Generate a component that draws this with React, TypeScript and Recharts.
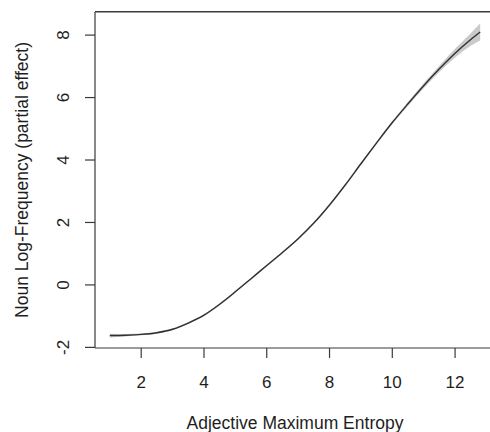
import React from "react";
import { ComposedChart, Line, Area, XAxis, YAxis, Label, CartesianGrid } from "recharts";

const entropy = [1.0, 1.5, 2.0, 2.5, 3.0, 3.5, 4.0, 4.5, 5.0, 5.5, 6.0, 6.5, 7.0, 7.5, 8.0, 8.5, 9.0, 9.5, 10.0, 10.5, 11.0, 11.5, 12.0, 12.5, 12.8];
const partialEffect = [-1.62, -1.61, -1.585, -1.53, -1.42, -1.22, -0.97, -0.62, -0.22, 0.2, 0.62, 1.04, 1.48, 1.98, 2.56, 3.2, 3.88, 4.55, 5.2, 5.8, 6.38, 6.92, 7.42, 7.86, 8.1];
const bandHalfWidth = [0.06, 0.04, 0.03, 0.03, 0.03, 0.03, 0.03, 0.03, 0.03, 0.03, 0.03, 0.03, 0.03, 0.03, 0.03, 0.03, 0.04, 0.04, 0.05, 0.06, 0.08, 0.1, 0.14, 0.2, 0.27];

const xTicks = [2, 4, 6, 8, 10, 12];
const yTicks = [-2, 0, 2, 4, 6, 8];
const xDomain: [number, number] = [0.528, 13.272];
const yDomain: [number, number] = [-2.02, 8.74];

const xTitle = "Adjective Maximum Entropy";
const yTitle = "Noun Log-Frequency (partial effect)";

const data = entropy.map((x, i) => ({
  x,
  fit: partialEffect[i],
  band: [partialEffect[i] - bandHalfWidth[i], partialEffect[i] + bandHalfWidth[i]],
}));

const FONT = '"Liberation Sans", Arial, Helvetica, sans-serif';
const AXIS = "#3a3a3a";
const TEXT = "#1e1e1e";
const CHART_W = 500;
const CHART_H = 432;
const MARGIN_TOP = 12;
const Y_AXIS_W = 95;
const X_AXIS_H = 84;

const YTick = (props: any) => {
  const { x, y, payload } = props;
  const cx = x - 21.5;
  return (
    <text
      x={cx}
      y={y}
      transform={`rotate(-90, ${cx}, ${y})`}
      textAnchor="middle"
      dominantBaseline="central"
      fontFamily={FONT}
      fontSize={17}
      fill={TEXT}
    >
      {payload.value}
    </text>
  );
};

export default function App() {
  return (
    <div style={{ position: "absolute", left: 0, top: 0, width: 490, height: CHART_H, overflow: "hidden", background: "#fff" }}>
      <ComposedChart width={CHART_W} height={CHART_H} data={data} margin={{ top: MARGIN_TOP, right: 5, left: 0, bottom: 0 }}>
        <CartesianGrid
          vertical={false}
          horizontal
          horizontalCoordinatesGenerator={() => [MARGIN_TOP]}
          stroke={AXIS}
          strokeWidth={1.2}
          strokeDasharray=""
        />
        <XAxis
          dataKey="x"
          type="number"
          domain={xDomain}
          ticks={xTicks}
          allowDataOverflow
          height={X_AXIS_H}
          tickSize={10}
          tickMargin={18}
          stroke={AXIS}
          axisLine={{ stroke: AXIS, strokeWidth: 1.2 }}
          tickLine={{ stroke: AXIS, strokeWidth: 1.2 }}
          tick={{ fontFamily: FONT, fontSize: 17, fill: TEXT }}
        >
          <Label
            content={(p: any) => {
              const vb = p.viewBox || { x: 95, width: 400, y: 348 };
              return (
                <text
                  x={vb.x + vb.width / 2}
                  y={429}
                  textAnchor="middle"
                  fontFamily={FONT}
                  fontSize={17.5}
                  fill={TEXT}
                >
                  {xTitle}
                </text>
              );
            }}
          />
        </XAxis>
        <YAxis
          type="number"
          domain={yDomain}
          ticks={yTicks}
          allowDataOverflow
          width={Y_AXIS_W}
          tickSize={10}
          tickMargin={0}
          stroke={AXIS}
          axisLine={{ stroke: AXIS, strokeWidth: 1.2 }}
          tickLine={{ stroke: AXIS, strokeWidth: 1.2 }}
          tick={<YTick />}
        >
          <Label
            content={() => {
              const cy = MARGIN_TOP + (CHART_H - X_AXIS_H - MARGIN_TOP) / 2;
              const cx = 22;
              return (
                <text
                  x={cx}
                  y={cy}
                  transform={`rotate(-90, ${cx}, ${cy})`}
                  textAnchor="middle"
                  dominantBaseline="central"
                  fontFamily={FONT}
                  fontSize={17.5}
                  fill={TEXT}
                >
                  {yTitle}
                </text>
              );
            }}
          />
        </YAxis>
        <Area
          dataKey="band"
          type="monotone"
          stroke="none"
          fill="#cacaca"
          fillOpacity={1}
          isAnimationActive={false}
          activeDot={false}
        />
        <Line
          dataKey="fit"
          type="monotone"
          stroke="#303030"
          strokeWidth={1.4}
          dot={false}
          activeDot={false}
          isAnimationActive={false}
        />
      </ComposedChart>
      <div
        style={{
          position: "absolute",
          left: Y_AXIS_W,
          top: MARGIN_TOP - 0.6,
          width: CHART_W - 5 - Y_AXIS_W,
          height: 0,
          borderTop: `1.2px solid ${AXIS}`,
          pointerEvents: "none",
        }}
      />
    </div>
  );
}
